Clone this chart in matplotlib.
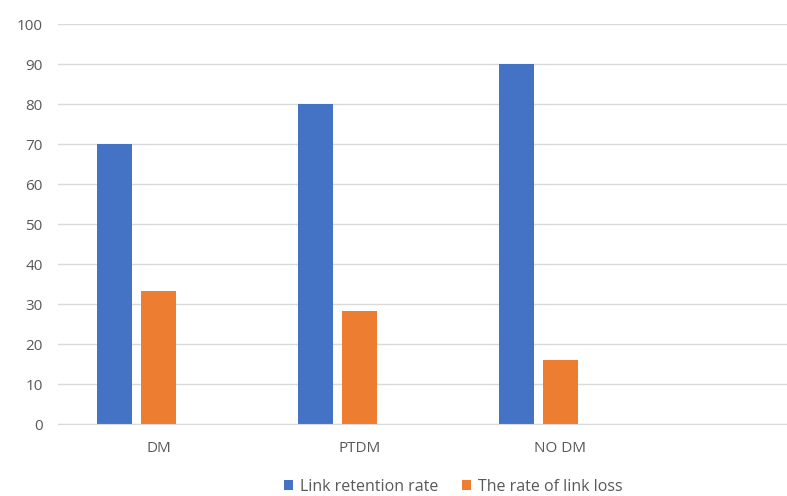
import numpy as np
import matplotlib
matplotlib.use("Agg")
import matplotlib.pyplot as plt

categories = ["DM", "PTDM", "NO DM"]
retention = [70, 80, 90]
loss = [33.3, 28.2, 16]
yticks = [0, 10, 20, 30, 40, 50, 60, 70, 80, 90, 100]

plt.rcParams["font.family"] = ["Open Sans", "DejaVu Sans"]

fig = plt.figure(figsize=(7.87, 4.96), dpi=100)
ax = fig.add_axes([58 / 787, 1 - 424 / 496, 1 - 58 / 787, (424 - 24) / 496])

x = np.arange(len(categories))
w = 35 / 201
ax.bar(x - 44.5 / 201, retention, w, color="#4472C4", label="Link retention rate")
ax.bar(x, loss, w, color="#ED7D31", label="The rate of link loss")

ax.set_xlim(-0.5, -0.5 + 729 / 201)
ax.set_ylim(0, 100)
ax.set_yticks(yticks)
ax.set_xticks(x)
ax.set_xticklabels(categories)
ax.tick_params(axis="both", length=0, colors="#595959", labelsize=11)
ax.tick_params(axis="y", pad=11)
ax.tick_params(axis="x", pad=12)

ax.grid(axis="y", color="#d9d9d9", linewidth=1)
ax.set_axisbelow(True)
for s in ["top", "right", "left"]:
    ax.spines[s].set_visible(False)
ax.spines["bottom"].set_color("#d9d9d9")

fig.legend(loc="center", bbox_to_anchor=(453 / 787, 1 - 487 / 496), ncol=2,
           frameon=False, fontsize=11.5, labelcolor="#595959",
           handlelength=0.6, handleheight=0.6, handletextpad=0.4, columnspacing=1.5)

fig.savefig("out.png", dpi=100)
